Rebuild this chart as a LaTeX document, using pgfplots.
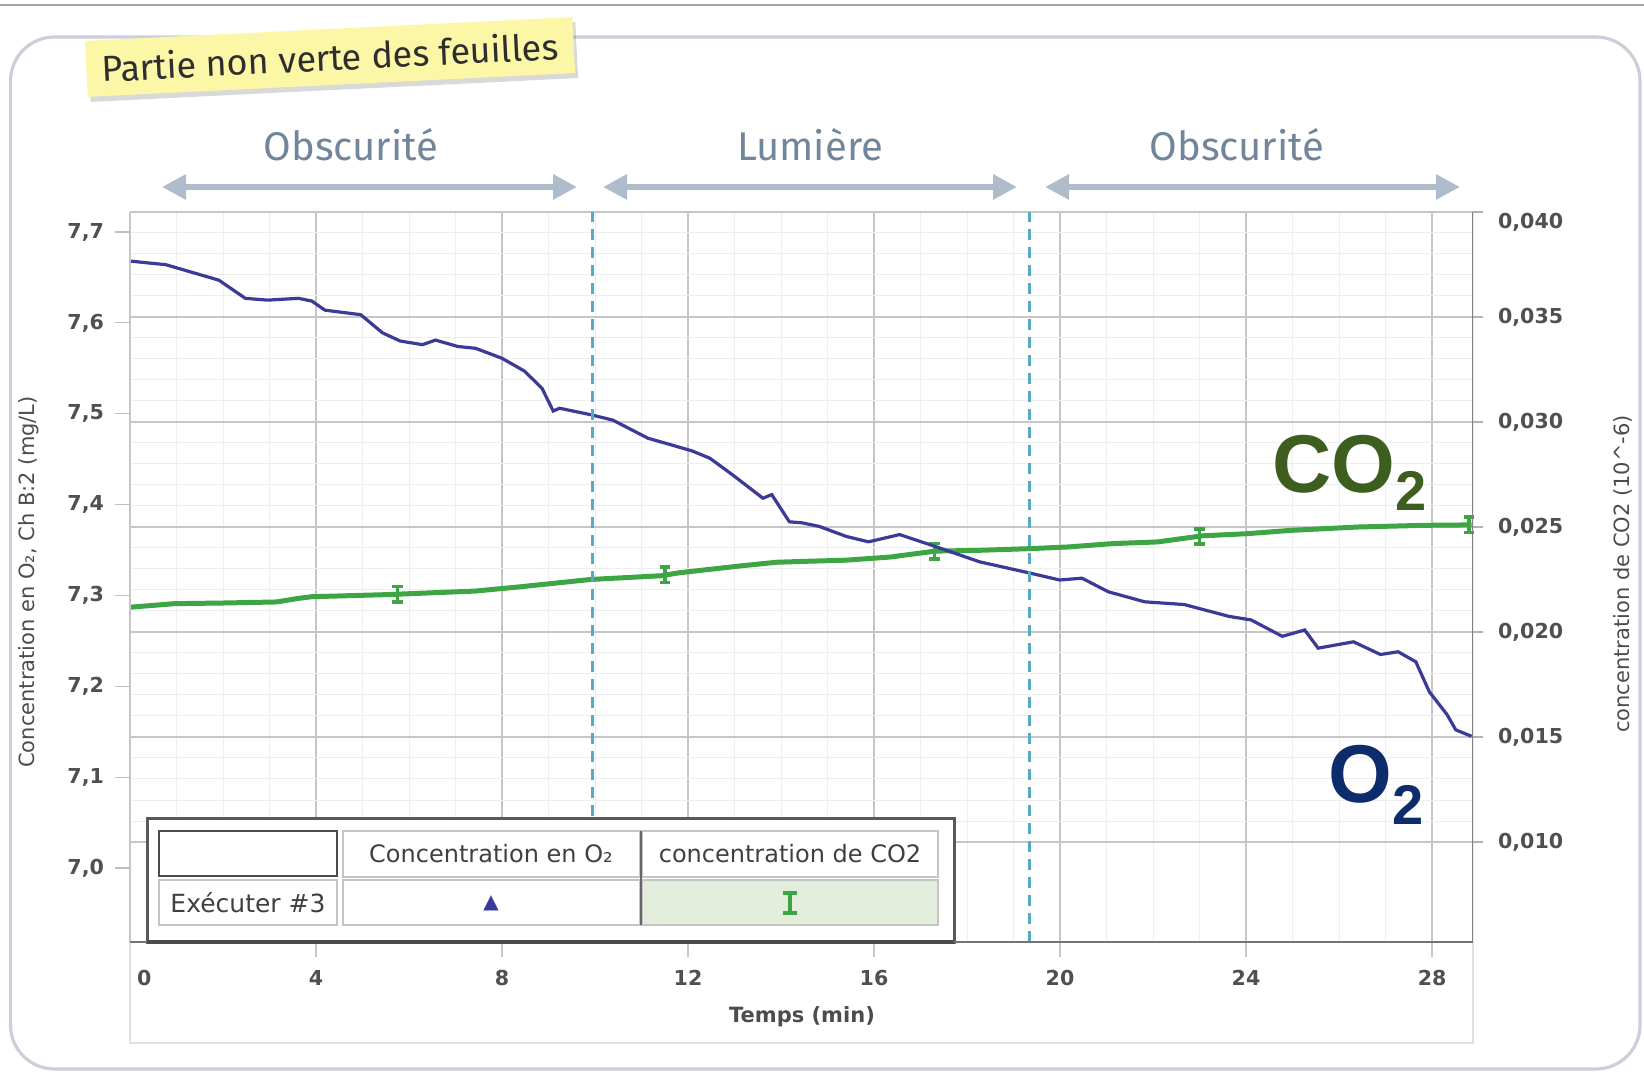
\documentclass[border=0pt]{standalone}
\usepackage{fontspec}
\setmainfont{DejaVu Sans}
\newfontfamily\firafont{Fira Sans}
\newfontfamily\arialfont{Liberation Sans}
\usepackage{pgfplots}
\pgfplotsset{compat=1.18}
\usetikzlibrary{arrows.meta,shadows}

\definecolor{o2line}{HTML}{3B3A98}
\definecolor{co2line}{HTML}{3EA544}
\definecolor{gridmaj}{HTML}{C6C6C6}
\definecolor{gridmin}{HTML}{EEEEEE}
\definecolor{tickgray}{HTML}{505050}
\definecolor{dashblue}{HTML}{55AAC6}
\definecolor{arrowgray}{HTML}{AEBCCB}
\definecolor{headgray}{HTML}{71859B}
\definecolor{framegray}{HTML}{C9D0D9}
\definecolor{noteyellow}{HTML}{FBF7A6}
\definecolor{co2text}{HTML}{3D5E1F}
\definecolor{o2text}{HTML}{0C2C6B}
\definecolor{legbg}{HTML}{E3EDDC}
\definecolor{cellgray}{HTML}{C4C4C4}

\pgfdeclareplotmark{ibeam}{%
  \pgfsetlinewidth{1.8pt}%
  \pgfpathmoveto{\pgfqpoint{-0.8\pgfplotmarksize}{1.2\pgfplotmarksize}}%
  \pgfpathlineto{\pgfqpoint{0.8\pgfplotmarksize}{1.2\pgfplotmarksize}}%
  \pgfpathmoveto{\pgfqpoint{0pt}{1.2\pgfplotmarksize}}%
  \pgfpathlineto{\pgfqpoint{0pt}{-1.2\pgfplotmarksize}}%
  \pgfpathmoveto{\pgfqpoint{-0.8\pgfplotmarksize}{-1.2\pgfplotmarksize}}%
  \pgfpathlineto{\pgfqpoint{0.8\pgfplotmarksize}{-1.2\pgfplotmarksize}}%
  \pgfusepathqstroke}

\pgfplotsset{
  common/.style={
    at={(65pt,-471pt)}, anchor=south west, scale only axis,
    width=671.5pt, height=365pt,
    xmin=0, xmax=28.88,
    axis line style={draw=none},
    tick align=outside,
    scaled ticks=false,
    ticklabel style={font=\fontsize{10.3}{12}\selectfont\bfseries, text=tickgray},
  }
}

\begin{document}
\begin{tikzpicture}
\useasboundingbox (0,0) rectangle (822pt,-537pt);

% ---------- right axis (CO2) with grids ----------
\begin{axis}[common,
  ymin=0.005238, ymax=0.040,
  xtick={0,4,8,12,16,20,24,28}, xticklabels={}, minor x tick num=3,
  x tick style={draw=none},
  ytick={0.010,0.015,0.020,0.025,0.030,0.035,0.040},
  yticklabels={0{,}010,0{,}015,0{,}020,0{,}025,0{,}030,0{,}035,{}},
  extra y ticks={0.040},
  extra y tick labels={0{,}040},
  extra y tick style={yticklabel style={yshift=-5pt}, y tick style={draw=none}},
  minor y tick num=4,
  ytick pos=right,
  major tick length=5pt, minor tick length=0pt,
  y tick style={draw=black!30, line width=0.6pt},
  yticklabel style={xshift=4pt},
  xmajorgrids, xminorgrids, ymajorgrids, yminorgrids,
  major grid style={draw=gridmaj, line width=0.8pt},
  minor grid style={draw=gridmin, line width=0.5pt},
]
\addplot[co2line, line width=2.5pt] coordinates {
(0,0.02118) (0.96,0.02135) (2.0,0.02138) (3.15,0.02143) (3.62,0.02160)
(3.91,0.02168) (5.53,0.02178) (7.43,0.02195) (8.38,0.02215) (9.9,0.02250)
(11.43,0.02268) (11.81,0.02282) (13.14,0.02315) (13.9,0.02332) (14.44,0.02336)
(15.40,0.02342) (16.35,0.02357) (17.31,0.02385) (18.27,0.02389) (19.36,0.02397)
(20.18,0.02405) (21.14,0.02421) (22.1,0.02429) (23.06,0.02458) (24.01,0.02468)
(24.97,0.02484) (26.41,0.02500) (27.84,0.02508) (28.85,0.02510)
};
\addplot[co2line, only marks, mark=ibeam, mark size=3.2pt] coordinates {
(5.75,0.02180) (11.5,0.02272) (17.3,0.02385) (23.0,0.02455) (28.8,0.02510)
};
\end{axis}

% ---------- left axis (O2) ----------
\begin{axis}[common,
  ymin=6.9186, ymax=7.722,
  xtick={0,4,8,12,16,20,24,28},
  xticklabels={\hphantom{00}0,4,8,12,16,20,24,28},
  xtick pos=bottom,
  x tick style={draw=black!22, line width=0.8pt},
  major tick length=7.5pt,
  ytick={7.0,7.1,7.2,7.3,7.4,7.5,7.6,7.7},
  yticklabels={7{,}0,7{,}1,7{,}2,7{,}3,7{,}4,7{,}5,7{,}6,7{,}7},
  ytick pos=left,
  y tick style={draw=black!25, line width=0.6pt},
  yticklabel style={xshift=-2pt},
  xticklabel style={yshift=-3pt},
]
\addplot[o2line, line width=1.6pt] coordinates {
(0,7.668) (0.77,7.664) (1.24,7.657) (1.91,7.647) (2.48,7.627) (2.96,7.625)
(3.62,7.627) (3.91,7.624) (4.19,7.614) (4.96,7.609) (5.43,7.589) (5.81,7.580)
(6.29,7.576) (6.57,7.581) (7.05,7.574) (7.43,7.572) (8.0,7.561) (8.48,7.547)
(8.86,7.528) (9.1,7.503) (9.24,7.506) (9.9,7.499) (10.38,7.493) (11.14,7.473)
(11.62,7.466) (12.09,7.459) (12.47,7.451) (12.95,7.433) (13.61,7.407) (13.80,7.411)
(14.18,7.381) (14.44,7.380) (14.82,7.376) (15.40,7.365) (15.88,7.359) (16.55,7.367)
(17.31,7.354) (18.27,7.337) (19.32,7.325) (19.99,7.317) (20.47,7.319) (21.04,7.304)
(21.82,7.293) (22.67,7.290) (23.63,7.277) (24.11,7.273) (24.78,7.255) (25.26,7.262)
(25.55,7.242) (26.31,7.249) (26.89,7.235) (27.27,7.238) (27.65,7.227) (27.94,7.194)
(28.32,7.169) (28.51,7.152) (28.85,7.145)
};
\draw[dashblue, line width=1.4pt, dash pattern=on 5.5pt off 3.5pt] (axis cs:9.95,6.9186) -- (axis cs:9.95,7.722);
\draw[dashblue, line width=1.4pt, dash pattern=on 5.5pt off 3.5pt] (axis cs:19.34,6.9186) -- (axis cs:19.34,7.722);
\draw[black!22, line width=0.9pt] (rel axis cs:0,0) -- (rel axis cs:0,1);
\draw[black!50, line width=1.4pt] (rel axis cs:1,0) -- (rel axis cs:1,1);
\end{axis}

% ---------- decorations in image pixel coordinates ----------
\begin{scope}[x=0.5pt, y=-0.5pt]
  % top line and frame
  \draw[black!35, line width=1pt] (0,5) -- (1644,5);
  \draw[framegray, line width=1.6pt, rounded corners=22pt] (10.5,37) rectangle (1640,1069);
  % area under x axis
  \draw[black!12, line width=0.6pt] (130,942) -- (130,1043) -- (1473,1043) -- (1473,942);
  % legend
  \fill[white] (147,818) rectangle (954,942);
  \draw[black!65, line width=1.5pt] (147,818) rectangle (954,942);
  \draw[cellgray, line width=0.8pt, fill=white] (343,831) rectangle (640,877);
  \draw[cellgray, line width=0.8pt, fill=white] (642,831) rectangle (938,877);
  \draw[cellgray, line width=0.8pt, fill=white] (159,880) rectangle (337,925);
  \draw[cellgray, line width=0.8pt, fill=white] (343,880) rectangle (640,925);
  \draw[cellgray, line width=0.8pt, fill=legbg] (642,880) rectangle (938,925);
  \draw[black!70, line width=1.4pt, fill=white] (159,831) rectangle (337,876);
  \draw[black!60, line width=1.2pt] (641,831) -- (641,925);
  \node[text=black!75, font=\fontsize{12}{14}\selectfont] at (491,854) {Concentration en O₂};
  \node[text=black!75, font=\fontsize{12}{14}\selectfont] at (790,854) {concentration de CO2};
  \node[text=black!75, font=\fontsize{12.5}{14}\selectfont] at (248,903) {Exécuter \#3};
  \node[text=o2line, font=\fontsize{10}{12}\selectfont] at (491,903) {▲};
  \draw[co2line, line width=1.8pt] (783,893) -- (797,893) (790,893) -- (790,913) (783,913) -- (797,913);
  % bottom axis line
  \draw[black!55, line width=1.3pt] (130,942) -- (1473,942);
  \draw[black!70, line width=2pt] (147,942) -- (954,942);
  % axis titles
  \node[rotate=90, text=black!70, font=\fontsize{10.5}{12}\selectfont] at (29,582) {Concentration en O₂, Ch B:2 (mg/L)};
  \node[rotate=90, text=black!70, font=\fontsize{10.5}{12}\selectfont] at (1623,574) {concentration de CO2 (10\^{}-6)};
  \node[text=black!70, font=\fontsize{10.5}{12}\selectfont\bfseries] at (802,1017) {Temps (min)};
  % period arrows and headers
  \draw[arrowgray, line width=3pt, {Triangle[length=12pt,width=12pt]}-{Triangle[length=12pt,width=12pt]}] (162,187) -- (577,187);
  \draw[arrowgray, line width=3pt, {Triangle[length=12pt,width=12pt]}-{Triangle[length=12pt,width=12pt]}] (603,187) -- (1017,187);
  \draw[arrowgray, line width=3pt, {Triangle[length=12pt,width=12pt]}-{Triangle[length=12pt,width=12pt]}] (1045,187) -- (1460,187);
  \node[text=headgray, font=\firafont\fontsize{20}{23}\selectfont] at (351,145) {Obscurité};
  \node[text=headgray, font=\firafont\fontsize{20}{23}\selectfont] at (810,145) {Lumière};
  \node[text=headgray, font=\firafont\fontsize{20}{23}\selectfont] at (1237,145) {Obscurité};
  % CO2 / O2 big labels
  \node[anchor=base west, inner sep=0pt, text=co2text, font=\arialfont\bfseries\fontsize{41}{45}\selectfont] at (1272,493) {CO\raisebox{-9pt}{\fontsize{28}{30}\selectfont 2}};
  \node[anchor=base west, inner sep=0pt, text=o2text, font=\arialfont\bfseries\fontsize{41}{45}\selectfont] at (1328,802) {O\raisebox{-11pt}{\fontsize{28}{30}\selectfont 2}};
  % yellow note
  \node[rotate=2.8, fill=noteyellow, minimum width=244pt, minimum height=28pt, inner sep=0pt,
        drop shadow={opacity=0.3, shadow xshift=1.5pt, shadow yshift=-2.5pt},
        text=black!82, font=\firafont\fontsize{18}{20}\selectfont] at (330,57) {Partie non verte des feuilles};
\end{scope}
\end{tikzpicture}
\end{document}
